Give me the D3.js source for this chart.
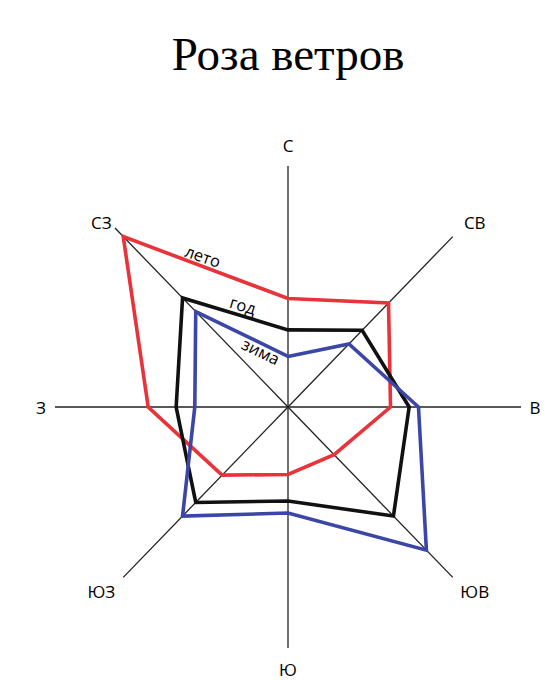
<!DOCTYPE html>
<html>
<head>
<meta charset="utf-8">
<script src="https://cdn.jsdelivr.net/npm/d3@7"></script>
<style>
  html, body { margin: 0; padding: 0; background: #fff; }
  svg { display: block; }
</style>
</head>
<body>
<svg id="chart" width="555" height="681"></svg>
<script>
// Directions (clockwise from north)
const directions = ["С", "СВ", "В", "ЮВ", "Ю", "ЮЗ", "З", "СЗ"];
// Relative wind frequency (0–100 = axis length)
const leto = [45, 61, 44, 28, 28, 40, 60, 100];  // summer
const god  = [32, 45, 52, 64, 39, 56, 48, 64];   // year
const zima = [21, 37, 56, 84, 44, 64, 40, 56];   // winter
const seriesNames = ["лето", "год", "зима"];
const title = "Роза ветров";

const svg = d3.select("#chart");
const cx = 288, cy = 407;
const rx = d3.scaleLinear().domain([0, 100]).range([0, 233]);
const ry = d3.scaleLinear().domain([0, 100]).range([0, 241]);
const angle = d3.scaleLinear().domain([0, directions.length]).range([0, 2 * Math.PI]);

function pt(i, v) {
  const a = angle(i);
  return [cx + rx(v) * Math.sin(a), cy - ry(v) * Math.cos(a)];
}

// Title
svg.append("text")
  .attr("x", 288).attr("y", 70)
  .attr("text-anchor", "middle")
  .attr("font-family", "'Liberation Serif', 'Times New Roman', serif")
  .attr("font-size", 47)
  .attr("fill", "#000")
  .text(title);

// Axes
const axes = svg.append("g");
directions.forEach((d, i) => {
  const len = i === 7 ? 105 : 100;
  const e = pt(i, len);
  axes.append("line")
    .attr("x1", cx).attr("y1", cy).attr("x2", e[0]).attr("y2", e[1])
    .attr("stroke", "#222").attr("stroke-width", 1.3);
  const b = pt(i, 100);
  const a = angle(i);
  const s = Math.sin(a), c = Math.cos(a);
  let ox, oy;
  if (i % 2 === 0) { // cardinal
    ox = s * 14; oy = -c * 21;
  } else {
    ox = Math.sign(s) * 22; oy = -Math.sign(c) * 14;
  }
  axes.append("text")
    .attr("x", b[0] + ox).attr("y", b[1] + oy)
    .attr("text-anchor", "middle")
    .attr("dominant-baseline", "central")
    .attr("font-family", "'Open Sans', sans-serif")
    .attr("font-size", 17)
    .attr("fill", "#000")
    .text(d);
});

// Series polygons
const series = [
  { name: "лето", values: leto, color: "#e8333a" },
  { name: "год",  values: god,  color: "#111111" },
  { name: "зима", values: zima, color: "#3b46a6" }
];
const line = d3.line().curve(d3.curveLinearClosed);
series.forEach(s => {
  svg.append("path")
    .attr("d", line(s.values.map((v, i) => pt(i, v))))
    .attr("fill", "none")
    .attr("stroke", s.color)
    .attr("stroke-width", 3.6)
    .attr("stroke-linejoin", "miter");
});

// Series labels along the NW–N segment
const labelPos = [
  { x: 203, y: 256, rot: 19 },
  { x: 243, y: 305, rot: 17 },
  { x: 261, y: 351, rot: 26 }
];
seriesNames.forEach((n, k) => {
  const p = labelPos[k];
  svg.append("text")
    .attr("transform", `translate(${p.x},${p.y}) rotate(${p.rot})`)
    .attr("text-anchor", "middle")
    .attr("dominant-baseline", "central")
    .attr("font-family", "'Open Sans', sans-serif")
    .attr("font-size", 16.5)
    .attr("fill", "#000")
    .text(n);
});
</script>
</body>
</html>
